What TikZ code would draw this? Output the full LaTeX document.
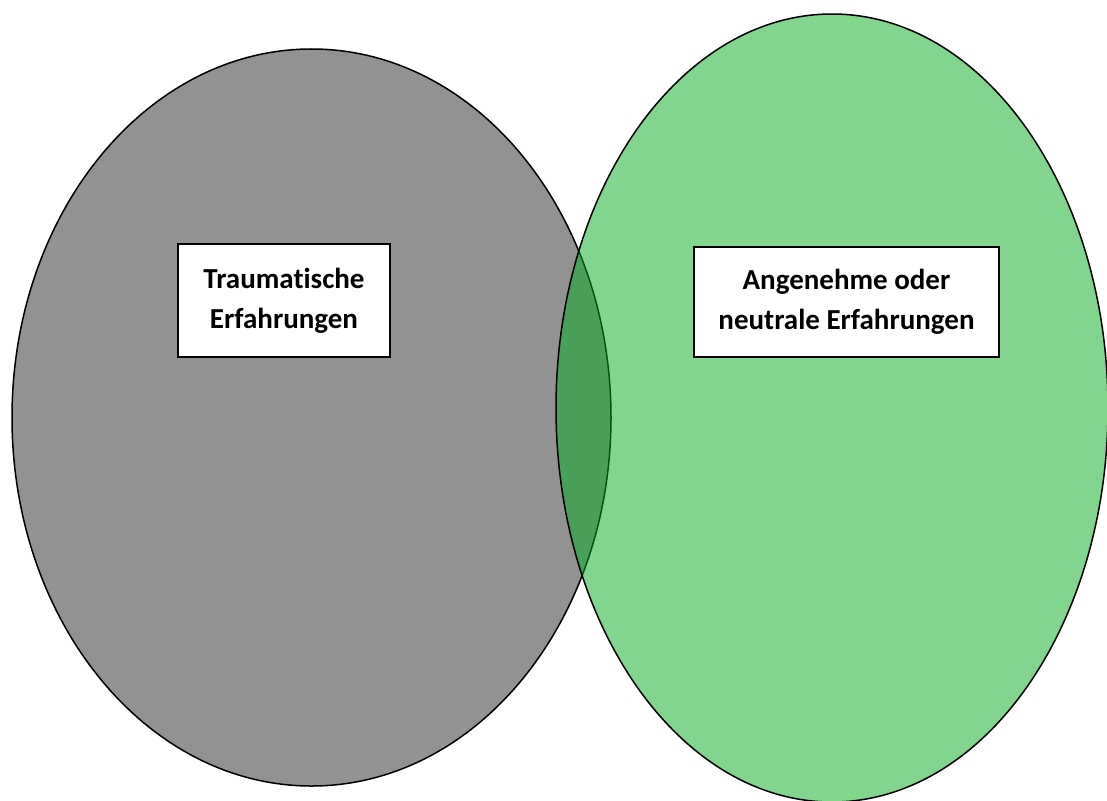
\documentclass[tikz,border=0pt]{standalone}
\usepackage{fontspec}
\setmainfont[Ligatures=NoCommon]{Carlito}
\usetikzlibrary{shapes.geometric}
\definecolor{setgray}{RGB}{146,146,146}
\definecolor{setgreen}{RGB}{4,172,28}
\tikzset{
  setshape/.style={ellipse, draw=black, line width=1.5pt, inner sep=0pt, outer sep=0pt},
  labelbox/.style={draw=black, line width=1.5pt, fill=white, align=center, inner sep=0pt,
    font=\fontsize{29}{40}\selectfont\bfseries},
}
\begin{document}
\begin{tikzpicture}[x=1pt,y=-1pt]
\useasboundingbox (0,0) rectangle (1107,800);
\clip (0,0) rectangle (1107,800);
% the two sets
\node[setshape, fill=setgray, minimum width=599, minimum height=737] (trauma) at (311.5,417.5) {};
\node[setshape, fill=setgreen, fill opacity=0.5, minimum width=552, minimum height=788] (neutral) at (832,408) {};
% their labels
\node[labelbox, minimum width=212, minimum height=113] (traumalabel) at (284,300.5) {Traumatische\\Erfahrungen};
\node[labelbox, minimum width=305, minimum height=110] (neutrallabel) at (846.5,302) {Angenehme oder\\neutrale Erfahrungen};
\end{tikzpicture}
\end{document}
